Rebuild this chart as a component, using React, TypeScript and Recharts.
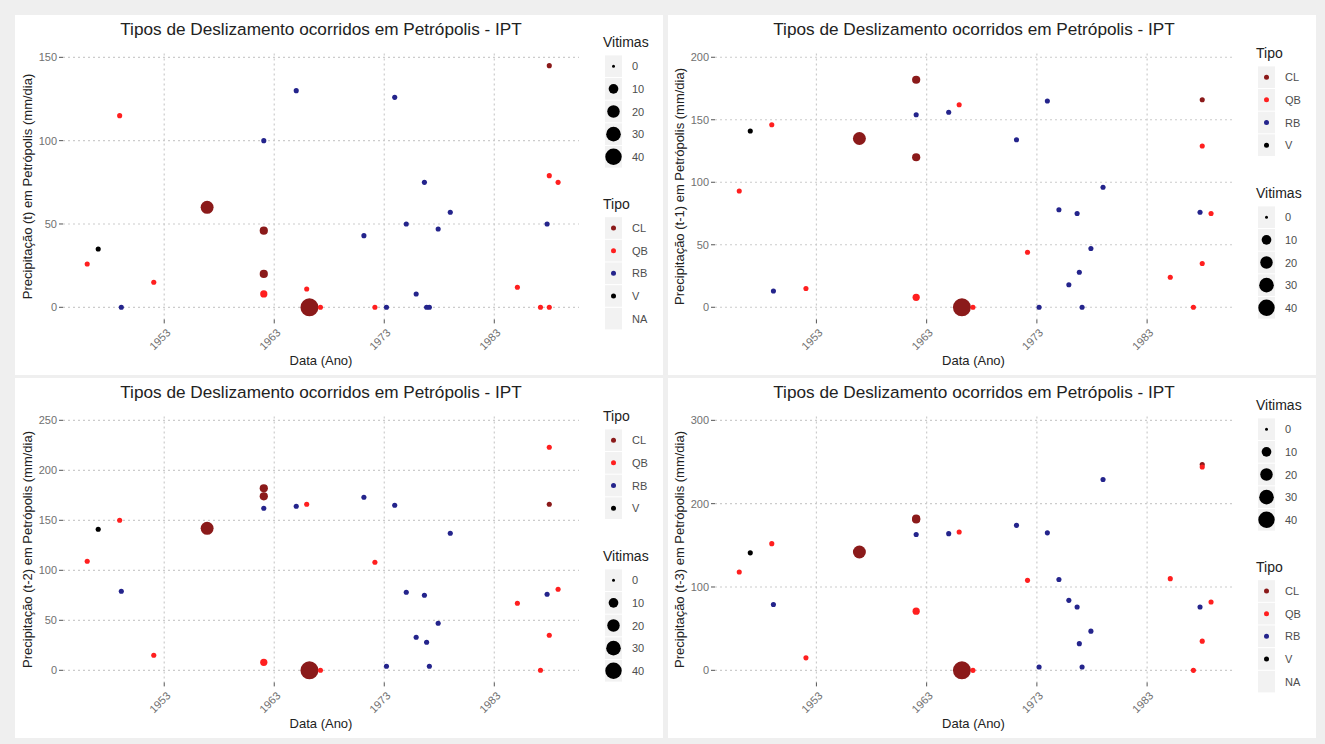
import React from 'react';
import { ScatterChart, Scatter, XAxis, YAxis, ZAxis, CartesianGrid } from 'recharts';

// one entry per landslide event (same events in all four panels)
const anos = [1946.0, 1947.0, 1948.95, 1949.1, 1952.05, 1956.9, 1962.05, 1962.05, 1962.05, 1962.05, 1965.0, 1965.95, 1966.2, 1967.2, 1971.15, 1972.15, 1973.2, 1973.95, 1975.0, 1975.9, 1976.65, 1976.85, 1977.1, 1977.9, 1979.0, 1985.1, 1987.2, 1987.8, 1988.0, 1988.0, 1988.0, 1988.8];
const tipos = ['QB', 'V', 'QB', 'RB', 'QB', 'CL', 'CL', 'CL', 'QB', 'RB', 'RB', 'QB', 'CL', 'QB', 'RB', 'QB', 'RB', 'RB', 'RB', 'RB', 'RB', 'RB', 'RB', 'RB', 'RB', 'QB', 'QB', 'RB', 'CL', 'QB', 'QB', 'QB'];
const vitimas = [1, 1, 1, 1, 1, 22, 6, 6, 4, 1, 1, 1, 50, 1, 1, 1, 1, 1, 1, 1, 1, 1, 1, 1, 1, 1, 1, 1, 1, 1, 1, 1];

const precipT = [26, 35, 115, 0, 15, 60, 46, 20, 8, 100, 130, 11, 0, 0, 43, 0, 0, 126, 50, 8, 75, 0, 0, 47, 57, 12, 0, 50, 145, 79, 0, 75];
const precipT1 = [93, 141, 146, 13, 15, 135, 182, 120, 8, 154, 156, 162, 0, 0, 134, 44, 0, 165, 78, 18, 75, 28, 0, 47, 96, 24, 0, 76, 166, 129, 35, 75];
const precipT2 = [109, 141, 150, 79, 15, 142, 182, 174, 8, 162, 164, 166, 0, 0, 173, 108, 4, 165, 78, 33, 75, 28, 4, 47, 137, 67, 0, 76, 166, 223, 35, 81];
const precipT3 = [118, 141, 152, 79, 15, 142, 182, 181, 71, 163, 164, 166, 0, 0, 174, 108, 4, 165, 109, 84, 76, 32, 4, 47, 229, 110, 0, 76, 247, 244, 35, 82];

const anoTicks = [1953, 1963, 1973, 1983];
const tipoNomes = ['CL', 'QB', 'RB', 'V'];
const vitimasLegenda = [0, 10, 20, 30, 40];

const CORES: Record<string, string> = {
  CL: '#8b1a1a',
  QB: '#ff1f1f',
  RB: '#24248c',
  V: '#000000',
};

const TITULO = 'Tipos de Deslizamento ocorridos em Petrópolis - IPT';
const W = 648;
const H = 360;

// same size mapping as the ZAxis below (diameter), only for the legend keys
const diam = (v: number) => 3 + 15 * Math.sqrt(v / 50);

const YearTick = (props: any) => {
  const { x, y, payload } = props;
  return (
    <g transform={`translate(${x + 7},${y + 8})`}>
      <text textAnchor="end" transform="rotate(-45)" fontSize={11} fill="#707070">
        {payload.value}
      </text>
    </g>
  );
};

const dot = (color: string) => (p: any) => (
  <circle cx={p.cx} cy={p.cy} r={p.size / 2} fill={color} />
);

function LegendGroup({ title, top, items }: { title: string; top: number; items: { label: string; d: number; color: string }[] }) {
  return (
    <g>
      <text x={588} y={top + 5} fontSize={14} fill="#222">{title}</text>
      {items.map((it, i) => {
        const cy = top + 24.5 + 22.65 * i;
        return (
          <g key={it.label}>
            <rect x={590} y={cy - 10.8} width={17} height={21.6} fill="#f2f2f2" />
            {it.d > 0 && <circle cx={598.5} cy={cy} r={it.d / 2} fill={it.color} />}
            <text x={617} y={cy + 4} fontSize={11} fill="#4d4d4d">{it.label}</text>
          </g>
        );
      })}
    </g>
  );
}

function Panel({ left, top, valores, yLabel, yDomain, yTicks, yWidth, vitimasPrimeiro }: any) {
  const series = tipoNomes.map((t) => ({
    tipo: t,
    data: anos
      .map((x, i) => ({ x, y: valores[i], v: vitimas[i], tipo: tipos[i] }))
      .filter((d) => d.tipo === t),
  }));

  const tipoItems = tipoNomes.map((t) => ({ label: t, d: 5, color: CORES[t] }));
  const vitItems = vitimasLegenda.map((v) => ({ label: String(v), d: diam(v), color: '#000' }));

  return (
    <div style={{ position: 'absolute', left, top, width: W, height: H, background: '#fff' }}>
      <ScatterChart width={W} height={H} margin={{ top: 38.5, right: 84, bottom: 0, left: 0 }}>
        <CartesianGrid
          stroke="#cccccc"
          strokeDasharray="2 3"
          strokeWidth={1.2}
          horizontalValues={yTicks}
          verticalValues={anoTicks}
        />
        <XAxis
          dataKey="x"
          type="number"
          domain={[1943.8, 1990.7]}
          allowDataOverflow
          ticks={anoTicks}
          axisLine={false}
          tickLine={{ stroke: '#555' }}
          tickSize={4}
          height={55.6}
          tick={<YearTick />}
          label={{ value: 'Data (Ano)', position: 'insideBottom', offset: 10, fontSize: 13, fill: '#222' }}
        />
        <YAxis
          dataKey="y"
          type="number"
          domain={yDomain}
          allowDataOverflow
          ticks={yTicks}
          width={yWidth}
          axisLine={false}
          tickLine={{ stroke: '#555' }}
          tickSize={4}
          tick={{ fontSize: 11, fill: '#707070' }}
          label={{ value: yLabel, angle: -90, position: 'center', dx: -12, fontSize: 13, fill: '#222' }}
        />
        <ZAxis dataKey="v" type="number" domain={[0, 50]} range={[3, 18]} scale="sqrt" />
        {series.map((s) => (
          <Scatter
            key={s.tipo}
            name={s.tipo}
            data={s.data}
            fill={CORES[s.tipo]}
            shape={dot(CORES[s.tipo])}
            isAnimationActive={false}
          />
        ))}
      </ScatterChart>
      <svg width={W} height={H} style={{ position: 'absolute', left: 0, top: 0, pointerEvents: 'none' }}>
        <text x={306} y={19.5} textAnchor="middle" fontSize={17.2} fill="#222">{TITULO}</text>
        {vitimasPrimeiro ? (
          <>
            <LegendGroup title="Vitimas" top={26.7} items={vitItems} />
            <LegendGroup title="Tipo" top={188.5} items={[...tipoItems, { label: 'NA', d: 0, color: '#000' }]} />
          </>
        ) : (
          <>
            <LegendGroup title="Tipo" top={37.7} items={tipoItems} />
            <LegendGroup title="Vitimas" top={177.7} items={vitItems} />
          </>
        )}
      </svg>
    </div>
  );
}

export default function App() {
  return (
    <div
      style={{
        position: 'absolute',
        left: 0,
        top: 0,
        width: 1325,
        height: 744,
        background: '#efefef',
        fontFamily: '"Liberation Sans", Arial, sans-serif',
      }}
    >
      <Panel left={15} top={15} valores={precipT} yLabel="Precipitação (t) em Petrópolis (mm/dia)"
        yDomain={[-7.26, 152.3]} yTicks={[0, 50, 100, 150]} yWidth={48} vitimasPrimeiro />
      <Panel left={668} top={15} valores={precipT1} yLabel="Precipitação (t-1) em Petrópolis (mm/dia)"
        yDomain={[-9.7, 203]} yTicks={[0, 50, 100, 150, 200]} yWidth={47} vitimasPrimeiro={false} />
      <Panel left={15} top={378} valores={precipT2} yLabel="Precipitação (t-2) em Petrópolis (mm/dia)"
        yDomain={[-12.1, 253.8]} yTicks={[0, 50, 100, 150, 200, 250]} yWidth={48} vitimasPrimeiro={false} />
      <Panel left={668} top={378} valores={precipT3} yLabel="Precipitação (t-3) em Petrópolis (mm/dia)"
        yDomain={[-14.5, 304.6]} yTicks={[0, 100, 200, 300]} yWidth={47} vitimasPrimeiro />
    </div>
  );
}
